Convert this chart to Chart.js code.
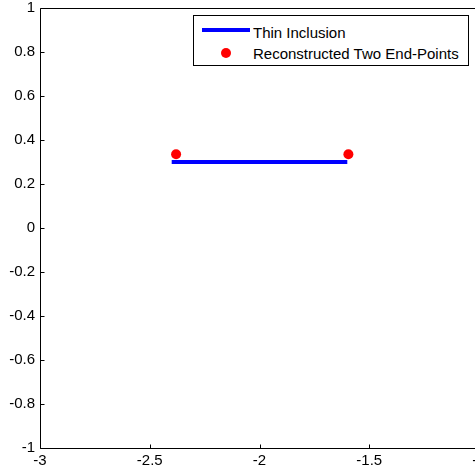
<!DOCTYPE html>
<html>
<head>
<meta charset="utf-8">
<script src="https://cdn.jsdelivr.net/npm/chart.js@4"></script>
<style>
html,body{margin:0;padding:0;background:#fff;overflow:hidden;width:475px;height:472px;}
#wrap{position:relative;width:475px;height:472px;overflow:hidden;}
canvas{display:block;position:absolute;left:0;top:-6px;}
#legend{position:absolute;left:193px;top:15px;width:274px;height:49px;border:1px solid #000;background:#fff;font-family:"Liberation Sans",Arial,sans-serif;font-size:15px;color:#000;}
#legend .t{position:absolute;left:59px;line-height:17px;white-space:nowrap;}
#legend .ln{position:absolute;left:8px;top:12px;width:48px;height:4px;background:#0000ff;}
#legend .dot{position:absolute;left:27px;top:32px;width:10px;height:10px;border-radius:50%;background:#ff0000;}
</style>
</head>
<body>
<div id="wrap">
<canvas id="c" width="500" height="478" style="width:500px;height:478px"></canvas>
<div id="legend">
  <div class="ln"></div><span class="t" style="top:8px">Thin Inclusion</span>
  <div class="dot"></div><span class="t" style="top:29px">Reconstructed Two End-Points</span>
</div>
</div>
<script>
// Data
const inclusionX = [-2.4, -1.6];
const inclusionY = [0.3, 0.3];
const endPointsX = [-2.38, -1.595];
const endPointsY = [0.335, 0.335];
const xTicks = [-3, -2.5, -2, -1.5, -1];
const yTicks = [-1, -0.8, -0.6, -0.4, -0.2, 0, 0.2, 0.4, 0.6, 0.8, 1];

const inclusionData = inclusionX.map((x, i) => ({x, y: inclusionY[i]}));
const endPointData = endPointsX.map((x, i) => ({x, y: endPointsY[i]}));
const fmt = v => String(+Number(v).toFixed(2));

const frameTicks = {
  id: 'frameTicks',
  afterDatasetsDraw(chart) {
    const {ctx, chartArea: a, scales} = chart;
    ctx.save();
    ctx.strokeStyle = '#000';
    ctx.lineWidth = 1;
    ctx.beginPath();
    const L = Math.round(a.left) + 0.5, R = Math.round(a.right) + 0.5;
    const T = Math.round(a.top) + 0.5, B = Math.round(a.bottom) + 0.5;
    ctx.rect(L, T, R - L, B - T);
    const tl = 4;
    xTicks.forEach(v => {
      const px = Math.round(scales.x.getPixelForValue(v)) + 0.5;
      ctx.moveTo(px, B); ctx.lineTo(px, B - tl);
    });
    yTicks.forEach(v => {
      const py = Math.round(scales.y.getPixelForValue(v)) + 0.5;
      ctx.moveTo(L, py); ctx.lineTo(L + tl, py);
    });
    ctx.stroke();
    ctx.restore();
  }
};

const font = {family: '"Liberation Sans", Arial, sans-serif', size: 15};
const chart = new Chart(document.getElementById('c'), {
  type: 'scatter',
  data: {
    datasets: [
      {
        type: 'line', label: 'Thin Inclusion', data: inclusionData,
        borderColor: '#0000ff', backgroundColor: '#0000ff', borderWidth: 4,
        pointRadius: 0, borderCapStyle: 'butt', fill: false, tension: 0, order: 2
      },
      {
        type: 'scatter', label: 'Reconstructed Two End-Points', data: endPointData,
        backgroundColor: '#ff0000', borderColor: '#ff0000', borderWidth: 0,
        pointRadius: 5, pointHoverRadius: 5, order: 1
      }
    ]
  },
  options: {
    responsive: false, animation: false,
    layout: {padding: {top: 0, right: 21, bottom: 0, left: 0}},
    plugins: {legend: {display: false}, tooltip: {enabled: false}},
    scales: {
      x: {
        type: 'linear', min: -3, max: -1,
        afterBuildTicks: s => { s.ticks = xTicks.map(v => ({value: v})); },
        afterFit: s => { s.height = 24; },
        grid: {display: false, drawTicks: false}, border: {display: false},
        ticks: {color: '#000', font, padding: 4, maxRotation: 0, autoSkip: false, callback: fmt}
      },
      y: {
        type: 'linear', min: -1, max: 1,
        afterBuildTicks: s => { s.ticks = yTicks.map(v => ({value: v})); },
        afterFit: s => { s.width = 40; },
        grid: {display: false, drawTicks: false}, border: {display: false},
        ticks: {color: '#000', font, padding: 5, autoSkip: false, callback: fmt}
      }
    }
  },
  plugins: [frameTicks]
});
</script>
</body>
</html>
